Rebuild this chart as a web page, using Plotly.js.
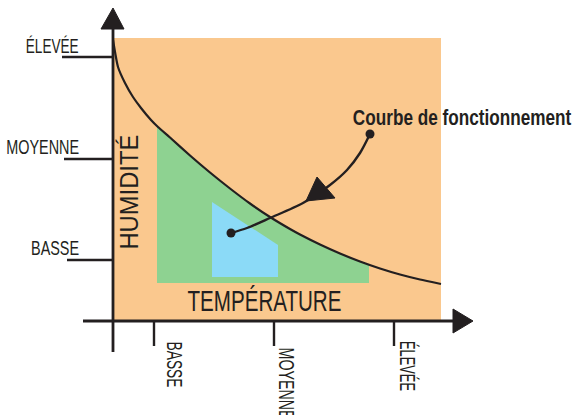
<!DOCTYPE html>
<html>
<head>
<meta charset="utf-8">
<script src="https://cdn.plot.ly/plotly-3.0.1.min.js"></script>
<style>html,body{margin:0;padding:0;background:#fff;}#chart{width:575px;height:415px;}</style>
</head>
<body>
<div id="chart"></div>
<script>
// Level names (tick labels)
const levels = ["BASSE", "MOYENNE", "ÉLEVÉE"];
// Positions of levels on temperature axis and humidity axis (schematic units)
const tempLevels = [41, 161, 281];
const humLevels = [61, 162, 264];

// Operating curve (humidity vs temperature)
const curveX = [0, 5, 12, 20, 28, 38, 45, 57, 77, 97, 117, 137, 157, 177, 187, 207, 227, 247, 267, 287, 307, 328];
const curveY = [281, 254, 238, 224, 213, 201, 194, 183.5, 165.5, 148.5, 132.5, 117.5, 104, 92, 86.5, 76.5, 67.5, 59.5, 52.5, 46.5, 41.5, 37];

// Green comfort zone (below the curve)
const greenX = [44, 45, 57, 77, 97, 117, 137, 157, 177, 187, 207, 227, 247, 256, 256, 44];
const greenY = [195, 194, 183.5, 165.5, 148.5, 132.5, 117.5, 104, 92, 86.5, 76.5, 67.5, 59.5, 56.5, 38, 38];

// Blue optimal zone
const blueX = [99, 165, 165, 99];
const blueY = [119, 76, 44, 44];

// Callout arrow path
const arrowX = [257, 247, 234, 217, 190, 157, 134, 118];
const arrowY = [187, 168, 151, 136, 118, 103, 93, 88];
const headX = [193, 204, 222, 193];
const headY = [120, 144, 123, 120];

const INK = "#231f20";
const FONT = "Liberation Sans, Arial, sans-serif";

const traces = [
  {x: greenX, y: greenY, type: "scatter", mode: "lines", fill: "toself",
   fillcolor: "#8ed291", line: {width: 0, color: "#8ed291"}, hoverinfo: "skip"},
  {x: blueX, y: blueY, type: "scatter", mode: "lines", fill: "toself",
   fillcolor: "#8bdaf7", line: {width: 0, color: "#8bdaf7"}, hoverinfo: "skip"},
  {x: curveX, y: curveY, type: "scatter", mode: "lines",
   line: {color: INK, width: 2.2, shape: "spline", smoothing: 0.5}, hoverinfo: "skip"},
  {x: arrowX, y: arrowY, type: "scatter", mode: "lines",
   line: {color: INK, width: 2.4, shape: "spline", smoothing: 0.8}, hoverinfo: "skip"},
  {x: headX, y: headY, type: "scatter", mode: "lines", fill: "toself",
   fillcolor: INK, line: {width: 1, color: INK}, hoverinfo: "skip"},
  {x: [arrowX[0], arrowX[arrowX.length - 1]], y: [arrowY[0], arrowY[arrowY.length - 1]],
   type: "scatter", mode: "markers", marker: {color: INK, size: 9}, hoverinfo: "skip"}
];

const shapes = [
  // orange background zone
  {type: "rect", xref: "x", yref: "y", x0: 0, x1: 328, y0: 0, y1: 283,
   fillcolor: "#fac88e", line: {width: 0}, layer: "below"},
  // y axis
  {type: "line", xref: "x", yref: "y", x0: 0, x1: 0, y0: -31, y1: 294,
   line: {color: INK, width: 2.8}},
  {type: "path", xref: "x", yref: "y", path: "M -12,292 L 11,292 L 0,313 Z",
   fillcolor: INK, line: {color: INK, width: 1}},
  // x axis
  {type: "line", xref: "x", yref: "y", x0: -30, x1: 342, y0: 0, y1: 0,
   line: {color: INK, width: 2.8}},
  {type: "path", xref: "x", yref: "y", path: "M 340,12 L 340,-12 L 360,0 Z",
   fillcolor: INK, line: {color: INK, width: 1}}
];
// y ticks
const yTickStart = [-46, -49, -51];
humLevels.forEach((v, i) => shapes.push({type: "line", xref: "x", yref: "y",
  x0: yTickStart[i], x1: 0, y0: v, y1: v, line: {color: INK, width: 2.4}}));
// x ticks
tempLevels.forEach(v => shapes.push({type: "line", xref: "x", yref: "y",
  x0: v, x1: v, y0: 0, y1: -25, line: {color: INK, width: 2.4}}));

// annotations + horizontal fit (condensed look): target length & scale origin
const annotations = [];
const fits = [];
const yLabelY = [73.5, 175, 275.5];
const yLabelW = [48, 73, 53];
levels.forEach((t, i) => {
  annotations.push({text: t, xref: "x", yref: "y",
    x: -32, y: yLabelY[i], xanchor: "right", yanchor: "middle", showarrow: false,
    font: {family: FONT, size: 21, color: INK}});
  fits.push({w: yLabelW[i], o: "right"});
});
const xLabelX = [61, 173, 295];
const xLabelTop = [-18, -24, -18];
const xLabelW = [46, 72, 50];
levels.forEach((t, i) => {
  annotations.push({text: t, xref: "x", yref: "y",
    x: xLabelX[i], y: xLabelTop[i], xanchor: "center", yanchor: "top", showarrow: false,
    textangle: 90, font: {family: FONT, size: 22, color: INK}});
  fits.push({w: xLabelW[i], o: "left"});
});
annotations.push({text: "HUMIDITÉ", xref: "x", yref: "y", x: 16, y: 128.5,
  xanchor: "center", yanchor: "middle", showarrow: false, textangle: -90,
  font: {family: FONT, size: 25, color: INK}});
fits.push({w: 115, o: "center"});
annotations.push({text: "TEMPÉRATURE", xref: "x", yref: "y", x: 151, y: 20.5,
  xanchor: "center", yanchor: "middle", showarrow: false,
  font: {family: FONT, size: 29, color: INK}});
fits.push({w: 154, o: "center"});
annotations.push({text: "<b>Courbe de fonctionnement</b>", xref: "x", yref: "y", x: 349.5, y: 204,
  xanchor: "center", yanchor: "middle", showarrow: false,
  font: {family: FONT, size: 22, color: INK}});
fits.push({w: 219, o: "center"});

const layout = {
  width: 575, height: 415,
  margin: {l: 0, r: 0, t: 0, b: 0, pad: 0},
  paper_bgcolor: "#ffffff", plot_bgcolor: "#ffffff",
  showlegend: false,
  xaxis: {range: [-113, 462], visible: false, fixedrange: true},
  yaxis: {range: [-94, 321], visible: false, fixedrange: true},
  shapes: shapes,
  annotations: annotations
};

Plotly.newPlot("chart", traces, layout, {displayModeBar: false, staticPlot: true}).then(gd => {
  gd.querySelectorAll("g.annotation").forEach(g => {
    const i = +g.getAttribute("data-index");
    const f = fits[i];
    const t = g.querySelector("text.annotation-text");
    if (!f || !t) return;
    const bb = t.getBBox();
    if (!bb.width) return;
    const s = f.w / bb.width;
    const ox = f.o === "left" ? bb.x : (f.o === "right" ? bb.x + bb.width : bb.x + bb.width / 2);
    const prev = t.getAttribute("transform") || "";
    t.setAttribute("transform", prev + " translate(" + ox + ",0) scale(" + s + ",1) translate(" + (-ox) + ",0)");
  });
});
</script>
</body>
</html>
